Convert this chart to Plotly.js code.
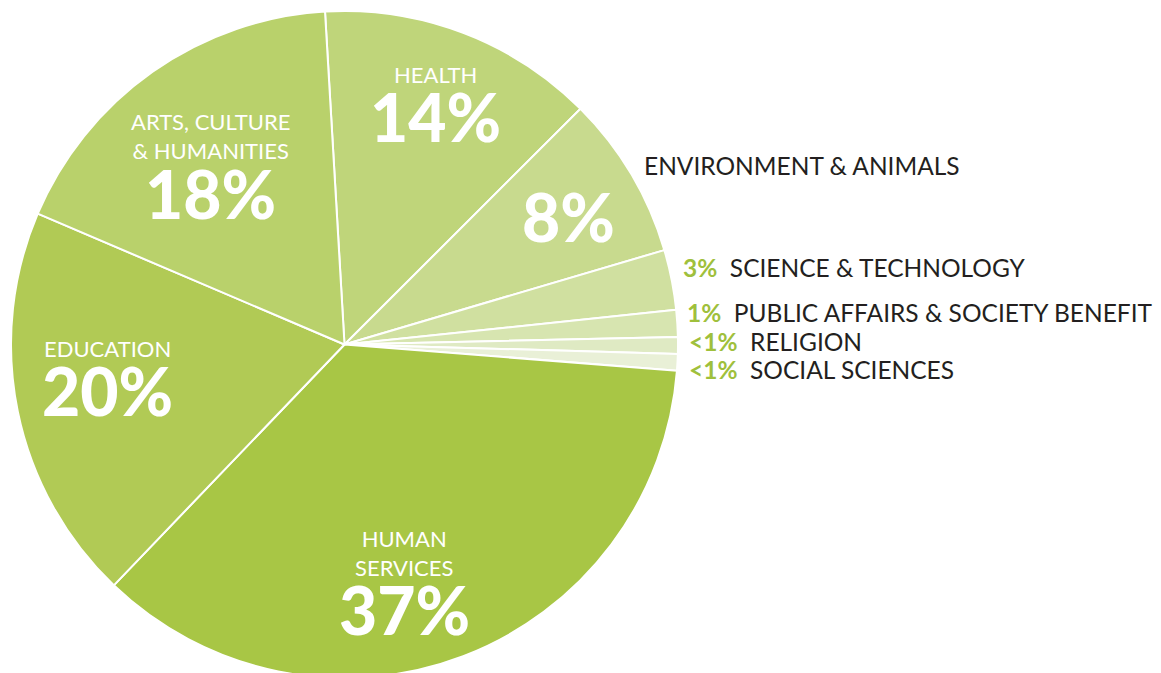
<!DOCTYPE html>
<html>
<head>
<meta charset="utf-8">
<script src="https://cdn.plot.ly/plotly-3.0.1.min.js"></script>
<style>
  html, body { margin: 0; padding: 0; background: #fff; overflow: hidden; }
  #chart { width: 1161px; height: 680px; }
</style>
</head>
<body>
<div id="chart"></div>
<script>
// slice data, clockwise from 12 o'clock
const categories = [
  "HEALTH", "ENVIRONMENT & ANIMALS", "SCIENCE & TECHNOLOGY",
  "PUBLIC AFFAIRS & SOCIETY BENEFIT", "RELIGION", "SOCIAL SCIENCES",
  "HUMAN SERVICES", "EDUCATION", "ARTS, CULTURE & HUMANITIES"
];
const shares = [13.4, 7.9, 2.9, 1.3, 0.8, 0.8, 35.8, 19.2, 17.6];
const shareLabels = ["14%", "8%", "3%", "1%", "<1%", "<1%", "37%", "20%", "18%"];
const sliceColors = [
  "#bfd57a", "#c8da8e", "#d0e0a0", "#d7e5b0", "#dfeac3", "#e9f0d7",
  "#a8c645", "#b1ca55", "#b9d16b"
];

const W = 1161, H = 680;
const px = (x) => x / W;
const py = (y) => 1 - y / H;

const GREEN = "#9fc03c";
const DARK = "#231f20";
const FONT = "Lato, 'Open Sans', sans-serif";

// where each label goes (pixel centers); inner names may wrap
const inner = {
  0: { name: "HEALTH", nx: 435, ny: 74, px: 435, py: 116 },
  1: { name: null, px: 568, py: 217 },
  6: { name: "HUMAN<br>SERVICES", nx: 404, ny: 553, px: 404, py: 609 },
  7: { name: "EDUCATION", nx: 107, ny: 348, px: 107, py: 391 },
  8: { name: "ARTS, CULTURE<br>& HUMANITIES", nx: 210, ny: 136, px: 210, py: 193 }
};
const outer = {
  1: { x: 642, y: 165, pct: false },
  2: { x: 681, y: 268, pct: true },
  3: { x: 685, y: 313, pct: true },
  4: { x: 687, y: 341, pct: true },
  5: { x: 687, y: 369, pct: true }
};

const annotations = [];
Object.keys(inner).forEach((k) => {
  const i = +k;
  const p = inner[k];
  if (p.name) {
    annotations.push({
      xref: "paper", yref: "paper", x: px(p.nx), y: py(p.ny),
      xanchor: "center", yanchor: "middle", showarrow: false,
      text: p.name, align: "center",
      font: { family: FONT, size: 22, color: "#ffffff" }
    });
  }
  annotations.push({
    xref: "paper", yref: "paper", x: px(p.px), y: py(p.py),
    xanchor: "center", yanchor: "middle", showarrow: false,
    text: shareLabels[i],
    font: { family: FONT, size: 66, color: "#ffffff", weight: 900 }
  });
});
Object.keys(outer).forEach((k) => {
  const i = +k;
  const o = outer[k];
  const t = o.pct
    ? `<span style="color:${GREEN}"><b>${shareLabels[i].replace("<", "&lt;")}</b></span>  ${categories[i]}`
    : categories[i];
  annotations.push({
    xref: "paper", yref: "paper", x: px(o.x), y: py(o.y),
    xanchor: "left", yanchor: "middle", showarrow: false,
    text: t,
    font: { family: FONT, size: 24.5, color: DARK }
  });
});

const trace = {
  type: "pie",
  labels: categories,
  values: shares,
  sort: false,
  direction: "clockwise",
  rotation: -3.35,
  textinfo: "none",
  hoverinfo: "label+percent",
  marker: { colors: sliceColors, line: { color: "#ffffff", width: 2 } },
  domain: { x: [px(11), px(678)], y: [py(678), py(11)] }
};

const layout = {
  width: W,
  height: H,
  margin: { l: 0, r: 0, t: 0, b: 0 },
  showlegend: false,
  paper_bgcolor: "#ffffff",
  annotations: annotations
};

Plotly.newPlot("chart", [trace], layout, { displayModeBar: false, staticPlot: true });
</script>
</body>
</html>
